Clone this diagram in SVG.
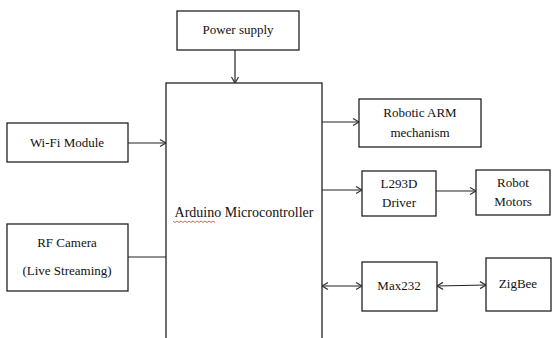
<svg xmlns="http://www.w3.org/2000/svg" width="560" height="338" viewBox="0 0 560 338">
<defs>
<style>
.box{fill:#fff;stroke:#222;stroke-width:1.3}
text{font-family:"Liberation Serif","DejaVu Serif","Times New Roman",serif;font-size:13px;fill:#111;text-anchor:middle}
text.big{font-size:14px}
.c{fill:none;stroke:#222;stroke-width:1.2}
</style>
<marker id="a" markerWidth="10" markerHeight="10" refX="8" refY="5" orient="auto-start-reverse" markerUnits="userSpaceOnUse">
<polyline points="2,1.5 8,5 2,8.5" fill="none" stroke="#333" stroke-width="1.2"/>
</marker>
</defs>
<rect width="560" height="338" fill="#fff"/>
<g id="connectors">
<line class="c" x1="235" y1="50" x2="235" y2="83" marker-end="url(#a)"/>
<line class="c" x1="128" y1="143" x2="166" y2="143" marker-end="url(#a)"/>
<line class="c" x1="128" y1="257" x2="166" y2="257"/>
<line class="c" x1="322" y1="122" x2="359" y2="122" marker-end="url(#a)"/>
<line class="c" x1="322" y1="190" x2="362" y2="190" marker-end="url(#a)"/>
<line class="c" x1="436" y1="191" x2="476" y2="191" marker-end="url(#a)"/>
<line class="c" x1="322" y1="286" x2="362" y2="286" marker-start="url(#a)" marker-end="url(#a)"/>
<line class="c" x1="437" y1="286" x2="486" y2="285" marker-start="url(#a)" marker-end="url(#a)"/>
</g>
<g id="arduino">
<rect class="box" x="166" y="83" width="156" height="270"/>
<text class="big" x="244" y="217">Arduino Microcontroller</text>
<path d="M173 221 l2 1.5 l2 -1.5 l2 1.5 l2 -1.5 l2 1.5 l2 -1.5 l2 1.5 l2 -1.5 l2 1.5 l2 -1.5 l2 1.5 l2 -1.5 l2 1.5 l2 -1.5 l2 1.5 l2 -1.5 l2 1.5 l2 -1.5 l2 1.5 l2 -1.5 l2 1.5" fill="none" stroke="#e03030" stroke-width="0.8"/>
</g>
<g id="power">
<rect class="box" x="177" y="11" width="122" height="39"/>
<text x="238" y="34">Power supply</text>
</g>
<g id="wifi">
<rect class="box" x="7" y="123" width="121" height="39"/>
<text x="67" y="147">Wi-Fi Module</text>
</g>
<g id="rfcam">
<rect class="box" x="7" y="224" width="121" height="67"/>
<text x="67" y="247">RF Camera</text>
<text x="67" y="275">(Live Streaming)</text>
</g>
<g id="arm">
<rect class="box" x="359" y="99" width="122" height="48"/>
<text x="420" y="117">Robotic ARM</text>
<text x="420" y="137">mechanism</text>
</g>
<g id="l293d">
<rect class="box" x="362" y="171" width="74" height="45"/>
<text x="399" y="188">L293D</text>
<text x="399" y="207">Driver</text>
</g>
<g id="motors">
<rect class="box" x="476" y="170" width="74" height="45"/>
<text x="513" y="187">Robot</text>
<text x="513" y="206">Motors</text>
</g>
<g id="max232">
<rect class="box" x="362" y="262" width="75" height="49"/>
<text x="399" y="290">Max232</text>
</g>
<g id="zigbee">
<rect class="box" x="486" y="258" width="65" height="53"/>
<text x="518" y="288">ZigBee</text>
</g>
</svg>
